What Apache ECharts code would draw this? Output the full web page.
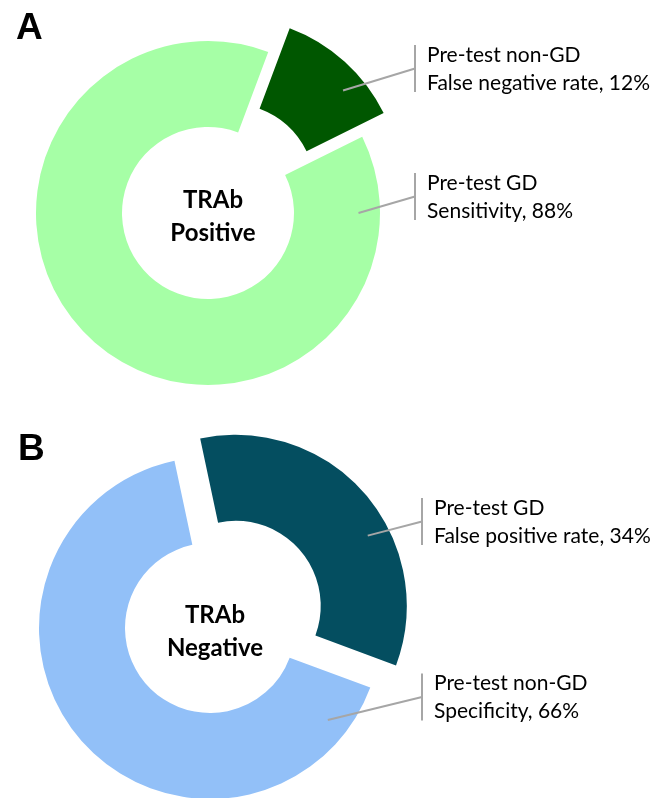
<!DOCTYPE html>
<html>
<head>
<meta charset="utf-8">
<script src="https://cdn.jsdelivr.net/npm/echarts@6/dist/echarts.min.js"></script>
<style>
html,body{margin:0;padding:0;background:#fff;}
#chart{width:665px;height:798px;}
</style>
</head>
<body>
<div id="chart"></div>
<script>
// ---- data ----
const panelLetters = ['A', 'B'];
const centerTitles = ['TRAb\nPositive', 'TRAb\nNegative'];
const groupsA = ['Pre-test non-GD', 'Pre-test GD'];
const measuresA = ['False negative rate', 'Sensitivity'];
const valuesA = [12, 88];
const groupsB = ['Pre-test GD', 'Pre-test non-GD'];
const measuresB = ['False positive rate', 'Specificity'];
const valuesB = [34, 66];

// ---- layout / style ----
const LABEL_FONT = 'Lato, "Open Sans", sans-serif';
const panels = [
  { center: [208, 213], radius: [86, 172], startAngle: 69.5, offset: 32, exploded: 0,
    colors: ['#005700', '#a6ffa6'], leaderAngle: [49, 90], bracketX: 415, labelY: [68.5, 196.5],
    letterPos: [11, 5] },
  { center: [210, 628], radius: [85, 171], startAngle: 102, offset: 34, exploded: 0,
    colors: ['#044e60', '#92c0f8'], leaderAngle: [62, 128], bracketX: 422, labelY: [521.5, 697],
    letterPos: [13, 426] }
];
const dataSets = [
  { groups: groupsA, measures: measuresA, values: valuesA },
  { groups: groupsB, measures: measuresB, values: valuesB }
];

const chart = echarts.init(document.getElementById('chart'));

function midAngleRad(p, d, i) {
  const total = d.values.reduce((a, b) => a + b, 0);
  let cum = 0;
  for (let k = 0; k < i; k++) cum += d.values[k];
  const midDeg = (90 - p.startAngle) + (cum + d.values[i] / 2) / total * 360;
  return midDeg * Math.PI / 180;
}

function leaderPoints(p, center, i) {
  const la = p.leaderAngle[i] * Math.PI / 180;
  const rr = p.radius[0] + 0.75 * (p.radius[1] - p.radius[0]);
  const sx = center[0] + rr * Math.sin(la), sy = center[1] - rr * Math.cos(la);
  const bx = p.bracketX, ly = p.labelY[i];
  return { leader: [[sx, sy], [bx, ly]], bracket: [[bx, ly - 23.5], [bx, ly + 23.5]] };
}

function makeLayout(p) {
  return function (params) {
    const i = params.dataIndex;
    return { x: p.bracketX + 12, y: p.labelY[i] + 0.5, align: 'left', verticalAlign: 'middle' };
  };
}

const series = [];
const graphics = [];
panels.forEach((p, pi) => {
  const d = dataSets[pi];
  const mid = midAngleRad(p, d, p.exploded);
  const shifted = [p.center[0] + p.offset * Math.sin(mid), p.center[1] - p.offset * Math.cos(mid)];
  // two layers: the ring (exploded slice hidden) and the exploded slice
  [false, true].forEach((isExploded) => {
    const center = isExploded ? shifted : p.center;
    series.push({
      type: 'pie',
      center: center,
      radius: p.radius,
      startAngle: p.startAngle,
      clockwise: true,
      avoidLabelOverlap: false,
      animation: false,
      silent: true,
      emphasis: { disabled: true, scale: false },
      label: {
        show: true,
        position: 'outside',
        fontFamily: LABEL_FONT,
        fontSize: 21,
        lineHeight: 28,
        color: '#000',
        formatter: (prm) => d.groups[prm.dataIndex] + '\n' + d.measures[prm.dataIndex] + ', ' + prm.value + '%'
      },
      labelLine: { show: false },
      labelLayout: makeLayout(p),
      data: d.values.map((v, i) => {
        const visible = (i === p.exploded) === isExploded;
        return {
          value: v,
          name: d.groups[i],
          itemStyle: { color: visible ? p.colors[i] : 'rgba(0,0,0,0)' },
          label: { show: visible }
        };
      })
    });
    d.values.forEach((v, i) => {
      const visible = (i === p.exploded) === isExploded;
      if (!visible) return;
      const pts = leaderPoints(p, center, i);
      const ls = { stroke: '#a6a6a6', lineWidth: 2, fill: null };
      graphics.push({ type: 'polyline', z: 100, silent: true, shape: { points: pts.leader }, style: ls });
      graphics.push({ type: 'polyline', z: 100, silent: true, shape: { points: pts.bracket }, style: ls });
    });
  });
});

const titles = [];
panels.forEach((p, pi) => {
  titles.push({
    text: panelLetters[pi], left: p.letterPos[0], top: p.letterPos[1],
    textStyle: { fontFamily: '"Liberation Sans", Arial, sans-serif', fontWeight: 'bold', fontSize: 37, color: '#000' }
  });
  titles.push({
    text: centerTitles[pi], left: p.center[0], top: p.center[1] - 34, textAlign: 'center',
    textStyle: { fontFamily: LABEL_FONT, fontWeight: 'bold', fontSize: 24, lineHeight: 33, color: '#000' }
  });
});

chart.setOption({
  backgroundColor: '#fff',
  animation: false,
  title: titles,
  series: series,
  graphic: graphics
});
</script>
</body>
</html>
